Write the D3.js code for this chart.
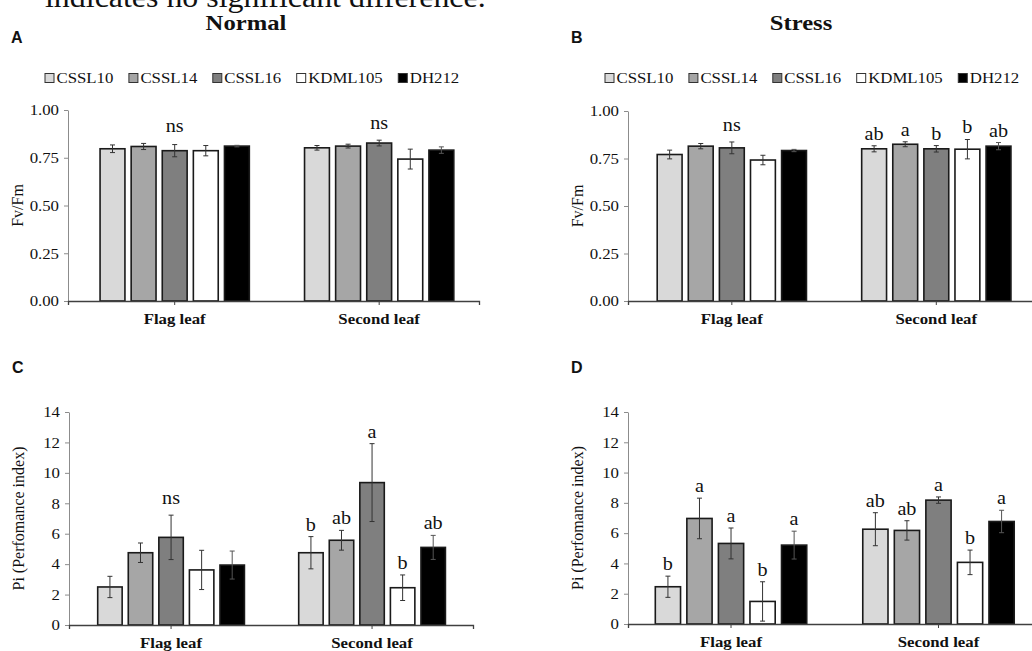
<!DOCTYPE html>
<html>
<head>
<meta charset="utf-8">
<script src="https://cdn.jsdelivr.net/npm/d3@7"></script>
<style>
  body { margin: 0; background: #fff; }
  svg { display: block; }
  text { font-family: 'Liberation Serif', 'Times New Roman', serif; fill: #111; }
  .sx { transform-box: fill-box; transform: scaleX(1.12); }
  .panel-letter { font-family: 'Liberation Sans', Arial, sans-serif; font-weight: bold; font-size: 16px; }
</style>
</head>
<body>
<svg id="chart" width="1032" height="651"></svg>
<script>
// --- data ---
const lines = ['CSSL10', 'CSSL14', 'CSSL16', 'KDML105', 'DH212'];
const leaves = ['Flag leaf', 'Second leaf'];

const fvTicks = [0, 0.25, 0.5, 0.75, 1.0];
const piTicks = [0, 2, 4, 6, 8, 10, 12, 14];

// Fv/Fm, normal
const fvfmNormal = [[0.797, 0.809, 0.787, 0.787, 0.811], [0.802, 0.811, 0.827, 0.743, 0.790]];
const fvfmNormalErr = [[0.020, 0.016, 0.032, 0.027, 0.004], [0.012, 0.010, 0.015, 0.052, 0.017]];
const fvfmNormalSig = ['ns', 'ns'];

// Fv/Fm, stress
const fvfmStress = [[0.771, 0.815, 0.806, 0.742, 0.792], [0.801, 0.825, 0.801, 0.799, 0.815]];
const fvfmStressErr = [[0.023, 0.014, 0.031, 0.025, 0.006], [0.016, 0.013, 0.017, 0.051, 0.019]];
const fvfmStressSig = ['ns', ['ab', 'a', 'b', 'b', 'ab']];

// Pi, normal
const piNormal = [[2.50, 4.75, 5.76, 3.62, 3.94], [4.75, 5.57, 9.36, 2.45, 5.10]];
const piNormalErr = [[0.70, 0.64, 1.46, 1.29, 0.92], [1.06, 0.65, 2.56, 0.84, 0.79]];
const piNormalSig = ['ns', ['b', 'ab', 'a', 'b', 'ab']];

// Pi, stress
const piStress = [[2.46, 6.97, 5.32, 1.49, 5.21], [6.26, 6.18, 8.18, 4.07, 6.77]];
const piStressErr = [[0.70, 1.34, 1.02, 1.30, 0.92], [1.09, 0.64, 0.21, 0.81, 0.74]];
const piStressSig = [['b', 'a', 'a', 'b', 'a'], ['ab', 'ab', 'a', 'b', 'a']];

const fills = ['#d9d9d9', '#a6a6a6', '#7f7f7f', '#ffffff', '#000000'];
const STRETCH = 1.12;

const svg = d3.select('#chart');
svg.append('rect').attr('width', 1032).attr('height', 651).attr('fill', '#fff');

// stretch text horizontally like the (slightly widened) original image
const stretch = (sel, anchor) => sel.classed('sx', true)
  .style('transform-origin', anchor === 'end' ? '100% 50%' : anchor === 'middle' ? '50% 50%' : '0% 50%');

// cut-off caption at the very top
svg.append('text')
  .attr('x', 45).attr('y', 6.5)
  .attr('font-size', 28.5)
  .text('indicates no significant difference.')
  .call(stretch, 'start');

const panels = [
  {id: 'A', left: 68, right: 479, top: 110, bottom: 301, align: 0.56, letterY: 43,
    vals: fvfmNormal, errs: fvfmNormalErr, sig: fvfmNormalSig, ticks: fvTicks, fmt: d3.format('.2f'),
    yLabel: 'Fv/Fm', title: 'Normal', titleX: 246, legend: true},
  {id: 'B', left: 628, right: 1039, top: 111, bottom: 301, align: 0.51, letterY: 43,
    vals: fvfmStress, errs: fvfmStressErr, sig: fvfmStressSig, ticks: fvTicks, fmt: d3.format('.2f'),
    yLabel: 'Fv/Fm', title: 'Stress', titleX: 801, legend: true},
  {id: 'C', left: 69, right: 473, top: 412, bottom: 625, align: 0.51, letterY: 373,
    vals: piNormal, errs: piNormalErr, sig: piNormalSig, ticks: piTicks, fmt: d3.format('d'),
    yLabel: 'Pi (Perfomance index)'},
  {id: 'D', left: 628, right: 1045, top: 412, bottom: 624, align: 0.47, letterY: 373,
    vals: piStress, errs: piStressErr, sig: piStressSig, ticks: piTicks, fmt: d3.format('d'),
    yLabel: 'Pi (Perfomance index)'}
];

const drawPanel = p => {
  const g = svg.append('g');

  const x0 = d3.scaleBand().domain(leaves).range([p.left, p.right])
    .paddingInner(0.27).paddingOuter(0.14).align(p.align);
  const x1 = d3.scaleBand().domain(lines).range([0, x0.bandwidth()]).paddingInner(0.2);
  const y = d3.scaleLinear().domain([0, d3.max(p.ticks)]).range([p.bottom, p.top]);

  // panel letter + title
  g.append('text').attr('class', 'panel-letter')
    .attr('x', p.left - 57).attr('y', p.letterY).text(p.id);
  if (p.title) {
    g.append('text').attr('x', p.titleX).attr('y', 30)
      .attr('text-anchor', 'middle').attr('font-size', 22).attr('font-weight', 'bold')
      .text(p.title).call(stretch, 'middle');
  }

  // legend
  if (p.legend) {
    const ly = 78;
    let lx = p.left - 23;
    lines.forEach((name, i) => {
      g.append('rect').attr('x', lx).attr('y', ly - 4.5).attr('width', 9).attr('height', 9)
        .attr('fill', fills[i]).attr('stroke', '#333').attr('stroke-width', 1);
      const t = g.append('text').attr('x', lx + 11.5).attr('y', ly + 5)
        .attr('font-size', 15).text(name).call(stretch, 'start');
      lx += 11.5 + t.node().getComputedTextLength() * STRETCH + 15.5;
    });
  }

  // y axis
  const ya = g.append('g').attr('transform', `translate(${p.left},0)`)
    .call(d3.axisLeft(y).tickValues(p.ticks).tickFormat(p.fmt).tickSize(4).tickPadding(5).tickSizeOuter(0));
  ya.attr('font-family', null);
  ya.select('.domain').attr('stroke', '#8c8c8c');
  ya.selectAll('.tick line').attr('stroke', '#8c8c8c');
  ya.selectAll('.tick text').attr('font-size', 15).attr('fill', '#111')
    .call(stretch, 'end');

  // y title
  g.append('text')
    .attr('transform', `translate(${p.left - 45},${(p.top + p.bottom) / 2}) rotate(-90)`)
    .attr('text-anchor', 'middle').attr('font-size', 16)
    .text(p.yLabel);

  // bars
  const rows = leaves.flatMap((leaf, gi) => lines.map((line, li) => ({
    leaf, line, gi, li, v: p.vals[gi][li], e: p.errs[gi][li]
  })));

  const bx = d => x0(d.leaf) + x1(d.line);

  g.selectAll('rect.bar').data(rows).join('rect')
    .attr('class', 'bar')
    .attr('x', bx)
    .attr('y', d => y(d.v))
    .attr('width', x1.bandwidth())
    .attr('height', d => y(0) - y(d.v))
    .attr('fill', d => fills[d.li])
    .attr('stroke', '#1a1a1a')
    .attr('stroke-width', 1.6);

  // error bars
  const eb = g.selectAll('g.err').data(rows).join('g').attr('class', 'err')
    .attr('stroke', d => d.li === 4 ? '#555' : '#333').attr('stroke-width', 1);
  eb.append('line')
    .attr('x1', d => bx(d) + x1.bandwidth() / 2).attr('x2', d => bx(d) + x1.bandwidth() / 2)
    .attr('y1', d => y(d.v + d.e)).attr('y2', d => y(d.v - d.e));
  [1, -1].forEach(s => {
    eb.append('line')
      .attr('x1', d => bx(d) + x1.bandwidth() / 2 - 2.5).attr('x2', d => bx(d) + x1.bandwidth() / 2 + 2.5)
      .attr('y1', d => y(d.v + s * d.e)).attr('y2', d => y(d.v + s * d.e));
  });

  // significance letters
  leaves.forEach((leaf, gi) => {
    const s = p.sig[gi];
    if (typeof s === 'string') {
      const top = d3.max(p.vals[gi], (v, i) => v + p.errs[gi][i]);
      g.append('text')
        .attr('x', x0(leaf) + x1(lines[2]) + x1.bandwidth() / 2)
        .attr('y', y(top) - 11)
        .attr('text-anchor', 'middle').attr('font-size', 18)
        .text(s).call(stretch, 'middle');
    } else {
      s.forEach((lab, li) => {
        g.append('text')
          .attr('x', x0(leaf) + x1(lines[li]) + x1.bandwidth() / 2)
          .attr('y', y(p.vals[gi][li] + p.errs[gi][li]) - 6)
          .attr('text-anchor', 'middle').attr('font-size', 18)
          .text(lab).call(stretch, 'middle');
      });
    }
  });

  // x axis (ticks at group centres)
  const xa = g.append('g').attr('transform', `translate(0,${p.bottom})`)
    .call(d3.axisBottom(x0).tickSize(4).tickSizeOuter(4).tickPadding(8));
  xa.attr('font-family', null);
  xa.select('.domain').attr('stroke', '#404040').attr('stroke-width', 1.3);
  xa.selectAll('.tick line').attr('stroke', '#404040');
  xa.selectAll('.tick text').attr('font-size', 15).attr('font-weight', 'bold').attr('fill', '#111')
    .call(stretch, 'middle');
};

panels.forEach(drawPanel);
</script>
</body>
</html>
